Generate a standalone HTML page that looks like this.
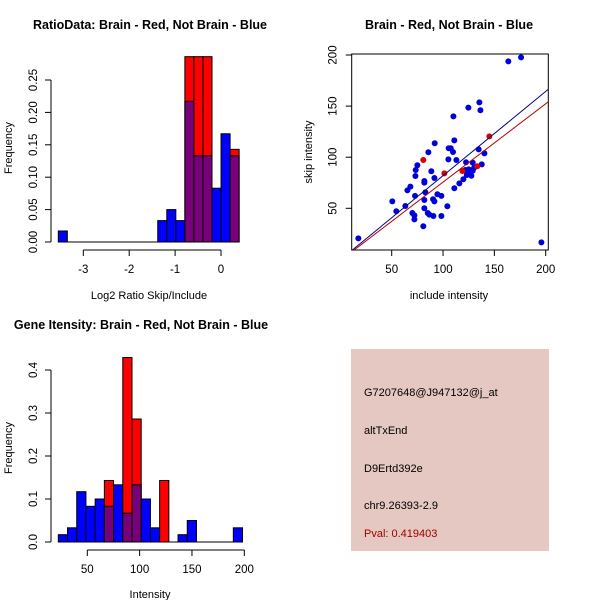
<!DOCTYPE html>
<html><head><meta charset="utf-8"><style>
html,body{margin:0;padding:0;background:#fff;width:600px;height:600px;overflow:hidden}
svg{display:block;font-family:"Liberation Sans",Arial,sans-serif}
</style></head><body>
<svg id="root" width="600" height="600" xmlns="http://www.w3.org/2000/svg">
<rect width="600" height="600" fill="#fff"/>
<text x="150" y="29" text-anchor="middle" font-size="12.5" font-weight="bold">RatioData: Brain - Red, Not Brain - Blue</text>
<text x="449" y="29" text-anchor="middle" font-size="12.5" font-weight="bold">Brain - Red, Not Brain - Blue</text>
<text x="141" y="329" text-anchor="middle" font-size="12.5" font-weight="bold">Gene Itensity: Brain - Red, Not Brain - Blue</text>
<text x="149" y="299" text-anchor="middle" font-size="11">Log2 Ratio Skip/Include</text>
<text transform="translate(12,148) rotate(-90)" text-anchor="middle" font-size="11">Frequency</text>
<text x="449" y="299" text-anchor="middle" font-size="11">include intensity</text>
<text transform="translate(312,152) rotate(-90)" text-anchor="middle" font-size="11">skip intensity</text>
<text x="150" y="598" text-anchor="middle" font-size="11">Intensity</text>
<text transform="translate(12,448) rotate(-90)" text-anchor="middle" font-size="11">Frequency</text>
<g>
<rect x="351" y="349" width="198" height="202" fill="#e6c8c2"/>
<text x="364" y="396" font-size="11">G7207648@J947132@j_at</text>
<text x="364" y="434" font-size="11">altTxEnd</text>
<text x="364" y="472" font-size="11">D9Ertd392e</text>
<text x="364" y="509" font-size="11">chr9.26393-2.9</text>
<text x="364" y="537" font-size="11" fill="#a00000">Pval: 0.419403</text>
</g>
<g id="g1"></g><g id="g2"></g><g id="g3"></g>
</svg>
<script>
// Ratio histogram data
const ratioStart = -3.545, ratioWidth = 0.197;
const ratioBlue = [0.017,0,0,0,0,0,0,0,0,0,0,0.033,0.05,0.033,0.217,0.133,0.133,0.083,0.167,0.133];
const ratioRed  = [0,0,0,0,0,0,0,0,0,0,0,0,0,0,0.286,0.286,0.286,0,0,0.143];
const ratioXTicks = [-3,-2,-1,0];
const ratioYTicks = ["0.00","0.05","0.10","0.15","0.20","0.25"];
// Intensity histogram data
const intStart = 22.3, intWidth = 8.8;
const intBlue = [0.017,0.033,0.117,0.083,0.1,0.083,0.133,0.067,0.133,0.1,0.033,0,0,0.017,0.05,0,0,0,0,0.033];
const intRed  = [0,0,0,0,0,0.143,0,0.429,0.286,0,0,0.143,0,0,0,0,0,0,0,0];
const intXTicks = [50,100,150,200];
const intYTicks = ["0.0","0.1","0.2","0.3","0.4"];
// Scatter data
const blueX = [17.5,50.6,54.5,63.3,65.3,68.2,70.1,72.1,72.1,72.7,73.1,73.4,75.0,80.8,81.8,81.8,81.8,81.8,82.8,85.1,85.7,86.7,88.6,90.6,90.3,91.6,91.6,91.9,94.5,98.4,98.4,104.2,105.2,105.5,107.5,109.7,110.1,111.0,111.0,113.0,115.9,119.8,121.8,122.4,123.1,124.7,125.0,126.3,127.6,128.9,128.9,130.2,134.7,135.4,136.4,137.7,140.3,163.6,176.0,195.8];
const blueY = [20.6,56.8,47.1,52.3,67.6,71.2,45.4,43.1,39.2,62.1,81.6,87.5,92.1,32.4,58.1,50.0,76.7,75.1,65.6,45.4,104.8,43.8,86.2,42.5,58.8,56.8,79.7,113.6,63.7,62.1,42.5,52.0,97.9,108.7,108.7,105.1,140.0,116.5,69.6,97.3,74.4,78.4,87.5,95.0,82.6,148.5,88.1,84.9,81.9,94.7,86.8,89.5,107.7,153.7,145.9,93.0,103.8,193.8,197.7,16.7];
const redX = [80.8,101.3,118.8,133.4,145.1];
const redY = [97.3,84.2,86.5,91.1,120.4];
const blueFit = [-0.46,0.824];
const redFit = [-1.1,0.767];
const scatterTicks = [50,100,150,200];

const NS="http://www.w3.org/2000/svg";
function mk(parent,tag,attrs){const e=document.createElementNS(NS,tag);for(const k in attrs)e.setAttribute(k,attrs[k]);parent.appendChild(e);return e;}
const PURPLE="#780078";

function hist(g,start,width,blue,red,sx,sy,y0,xTicks,yTicks,yStep,yAxisTop,xAxisY,prefix){
  const n=blue.length;
  const base=mk(g,'line',{x1:sx(start),x2:sx(start+n*width),y1:y0,y2:y0,stroke:'#000'});
  
  
  for(let i=0;i<n;i++){
    const x0=sx(start+i*width), x1=sx(start+(i+1)*width);
    const b=blue[i], r=red[i];
    const draw=(h,col,name)=>{ if(h<=0) return;
      const rc=mk(g,'rect',{x:x0,y:sy(h),width:x1-x0,height:y0-sy(h),fill:col,stroke:'#000','stroke-width':1});
      
      
    };
    if(r>=b){draw(r,'#ff0000',prefix+'-bar-red');draw(Math.min(b,r),r>0?PURPLE:'#0000ff',prefix+'-bar-overlap');}
    else{draw(b,'#0000ff',prefix+'-bar-blue');draw(r,PURPLE,prefix+'-bar-overlap');}
  }
  const yTop=sy(yAxisTop);
  const ya=mk(g,'line',{x1:51,x2:51,y1:y0,y2:yTop,stroke:'#000'});
  
  
  yTicks.forEach((t,i)=>{const y=sy(i*yStep);
    mk(g,'line',{x1:45,x2:51,y1:y,y2:y,stroke:'#000'});
    const tx=mk(g,'text',{transform:`translate(37,${y}) rotate(-90)`,'text-anchor':'middle','font-size':11.5});
    tx.textContent=t;
    
    
  });
  const xa=mk(g,'line',{x1:sx(xTicks[0]),x2:sx(xTicks[xTicks.length-1]),y1:xAxisY,y2:xAxisY,stroke:'#000'});
  
  
  xTicks.forEach(t=>{const x=sx(t);
    mk(g,'line',{x1:x,x2:x,y1:xAxisY,y2:xAxisY+6,stroke:'#000'});
    const tx=mk(g,'text',{x:x,y:xAxisY+23,'text-anchor':'middle','font-size':11.5});
    tx.textContent=t;
    
    
  });
}

hist(document.getElementById('g1'),ratioStart,ratioWidth,ratioBlue,ratioRed,
  v=>221+v*45.9, v=>242-v*648, 242, ratioXTicks, ratioYTicks, 0.05, 0.25, 250, 'ratio');
hist(document.getElementById('g3'),intStart,intWidth,intBlue,intRed,
  v=>87.3+(v-50)*1.0467, v=>542-v*430, 542, intXTicks, intYTicks, 0.1, 0.4, 550, 'intensity');

(function(){
  const g=document.getElementById('g2');
  const L=351.7,R=548.3,T=54,B=250;
  const sx=v=>391.7+(v-50)*1.0267, sy=v=>208.3-(v-50)*1.022;
  const cp=mk(g,'clipPath',{id:'clipS'});mk(cp,'rect',{x:L,y:T,width:R-L,height:B-T});
  const box=mk(g,'rect',{x:L,y:T,width:R-L,height:B-T,fill:'none',stroke:'#000'});
  
  
  scatterTicks.forEach(t=>{
    mk(g,'line',{x1:sx(t),x2:sx(t),y1:B,y2:B+6,stroke:'#000'});
    const tx=mk(g,'text',{x:sx(t),y:B+23,'text-anchor':'middle','font-size':11.5});tx.textContent=t;
    
    
    mk(g,'line',{x1:L-6,x2:L,y1:sy(t),y2:sy(t),stroke:'#000'});
    const ty=mk(g,'text',{transform:`translate(${L-15},${sy(t)}) rotate(-90)`,'text-anchor':'middle','font-size':11.5});ty.textContent=t;
    
    
  });
  const pts=mk(g,'g',{'clip-path':'url(#clipS)'});
  blueX.forEach((x,i)=>{const c=mk(pts,'circle',{cx:sx(x),cy:sy(blueY[i]),r:3,fill:'#0000dd'});
    
    });
  redX.forEach((x,i)=>{const c=mk(pts,'circle',{cx:sx(x),cy:sy(redY[i]),r:3,fill:'#dd0000'});
    
    });
  const line=(fit,col,name)=>{const x0=0,x1=220;
    const l=mk(pts,'line',{x1:sx(x0),y1:sy(fit[0]+fit[1]*x0),x2:sx(x1),y2:sy(fit[0]+fit[1]*x1),stroke:col,'stroke-width':1});
    
    };
  line(blueFit,'#000080','fit-line-not-brain');
  line(redFit,'#b00000','fit-line-brain');
})();
</script>
</body></html>
